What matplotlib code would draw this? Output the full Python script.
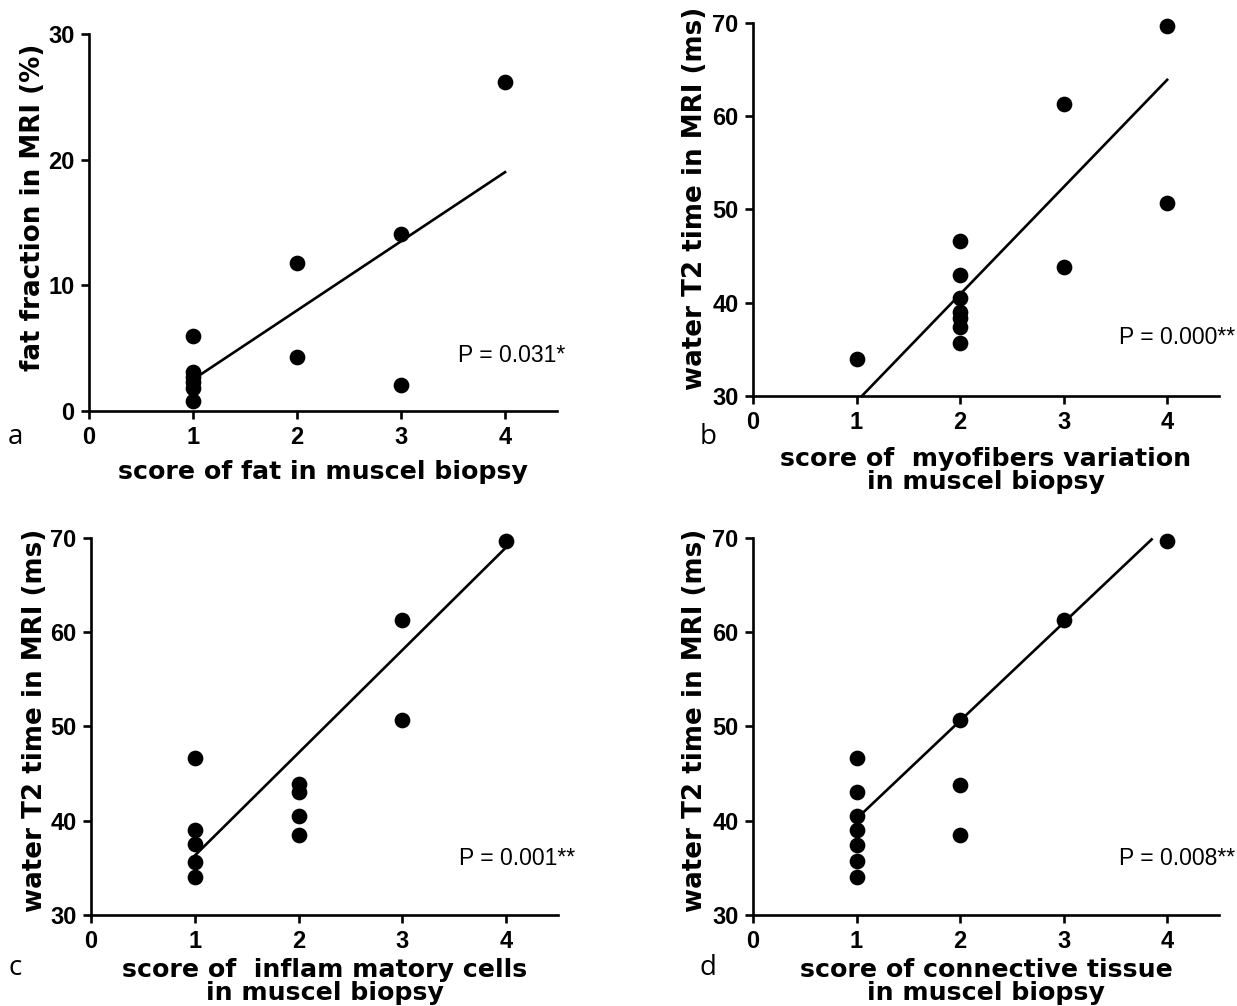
import matplotlib
matplotlib.use("Agg")
import matplotlib.pyplot as plt
import numpy as np


# Scores and MRI values.
FAT_SCORE = [1, 1, 1, 1, 1, 1, 2, 2, 3, 3, 4]
FAT_FRACTION = [6.0, 3.1, 2.7, 2.3, 1.8, 0.8, 11.8, 4.3, 14.1, 2.1, 26.2]

MYO_SCORE = [1, 2, 2, 2, 2, 2, 2, 2, 3, 3, 4, 4]
MYO_T2 = [34.0, 46.6, 43.0, 40.5, 39.0, 38.4, 37.4, 35.7, 61.3, 43.8, 69.7, 50.7]

INFLAM_SCORE = [1, 1, 1, 1, 1, 2, 2, 2, 2, 3, 3, 4]
INFLAM_T2 = [46.6, 39.0, 37.5, 35.6, 34.0, 43.9, 43.0, 40.5, 38.5, 61.3, 50.7, 69.7]

CONN_SCORE = [1, 1, 1, 1, 1, 1, 1, 2, 2, 2, 3, 4]
CONN_T2 = [46.6, 43.0, 40.5, 39.0, 37.4, 35.7, 34.0, 50.7, 43.8, 38.5, 61.3, 69.7]

# Regression lines: (intercept, slope, x start, x end).
FAT_FIT = (-3.0, 5.5, 1.02, 4.0)
MYO_FIT = (17.9, 11.5, 1.05, 4.0)
INFLAM_FIT = (25.4, 10.9, 1.0, 4.0)
CONN_FIT = (29.8, 10.4, 1.0, 3.85)

P_LABELS = ["P = 0.031*", "P = 0.000**", "P = 0.001**", "P = 0.008**"]
PANEL_LETTERS = ["a", "b", "c", "d"]
X_TICKS = [0, 1, 2, 3, 4]

TICK_FONT = ["Liberation Sans Narrow", "Liberation Sans", "DejaVu Sans"]
LABEL_FONT = ["DejaVu Sans"]
P_FONT = ["Liberation Sans", "DejaVu Sans"]
LETTER_FONT = ["Open Sans", "DejaVu Sans"]


# Draw one scatter panel with its fit line and styling.
def draw_panel(ax, xs, ys, fit, yticks, ylabel, ylabel_pos, xlabel, xlabel_y, p_text, p_pos):
    ax.plot(xs, ys, "o", color="black", markersize=10.3, clip_on=False, zorder=3)
    intercept, slope, x0, x1 = fit
    line_x = np.array([x0, x1])
    ax.plot(line_x, intercept + slope * line_x, color="black", linewidth=1.9, clip_on=False)

    ax.set_xlim(0, 4.5)
    ax.set_ylim(yticks[0], yticks[-1])
    ax.set_xticks(X_TICKS)
    ax.set_yticks(yticks)
    for side in ("top", "right"):
        ax.spines[side].set_visible(False)
    for side in ("left", "bottom"):
        ax.spines[side].set_linewidth(1.9)
    ax.tick_params(direction="out", length=6, width=1.9, pad=4.5)
    for label in ax.get_xticklabels() + ax.get_yticklabels():
        label.set_family(TICK_FONT)
        label.set_fontweight("bold")
        label.set_fontsize(17)

    ax.set_ylabel(ylabel, family=LABEL_FONT, fontweight="bold", fontsize=18.8, va="center")
    ax.yaxis.set_label_coords(*ylabel_pos)
    ax.set_xlabel(xlabel, family=LABEL_FONT, fontweight="bold", fontsize=18.2,
                  linespacing=0.92, va="center")
    ax.xaxis.set_label_coords(0.5, xlabel_y)

    ax.text(p_pos[0], p_pos[1], p_text, transform=ax.transAxes, ha="right", va="center",
            family=P_FONT, fontsize=16.5)


def main() -> None:
    fig = plt.figure(figsize=(12.37, 10.06), dpi=100)
    fig.patch.set_facecolor("white")

    ax_a = fig.add_axes([0.0720, 0.5915, 0.3783, 0.3748])
    ax_b = fig.add_axes([0.6087, 0.6064, 0.3767, 0.3708])
    ax_c = fig.add_axes([0.0736, 0.0905, 0.3775, 0.3748])
    ax_d = fig.add_axes([0.6087, 0.0905, 0.3767, 0.3748])

    t2_ticks = [30, 40, 50, 60, 70]
    t2_label = "water T2 time in MRI (ms)"

    draw_panel(ax_a, FAT_SCORE, FAT_FRACTION, FAT_FIT, [0, 10, 20, 30],
               "fat fraction in MRI (%)", (-0.12, 0.54), "score of fat in muscel biopsy", -0.162,
               P_LABELS[0], (1.017, 0.146))
    draw_panel(ax_b, MYO_SCORE, MYO_T2, MYO_FIT, t2_ticks, t2_label, (-0.125, 0.53),
               "score of  myofibers variation\nin muscel biopsy", -0.2,
               P_LABELS[1], (1.034, 0.158))
    draw_panel(ax_c, INFLAM_SCORE, INFLAM_T2, INFLAM_FIT, t2_ticks, t2_label, (-0.12, 0.516),
               "score of  inflam matory cells\nin muscel biopsy", -0.176,
               P_LABELS[2], (1.036, 0.151))
    draw_panel(ax_d, CONN_SCORE, CONN_T2, CONN_FIT, t2_ticks, t2_label, (-0.125, 0.516),
               "score of connective tissue\nin muscel biopsy", -0.176,
               P_LABELS[3], (1.034, 0.151))

    # Panel letters sit below-left of each plot.
    letter_pos = [(15, 437), (708, 437), (15, 968), (708, 968)]
    for letter, (px, py) in zip(PANEL_LETTERS, letter_pos):
        fig.text(px / 1237, 1 - py / 1006, letter, ha="center", va="center",
                 family=LETTER_FONT, fontsize=20)

    fig.savefig("out.png", dpi=100, facecolor="white")
    plt.close(fig)


if __name__ == "__main__":
    main()
